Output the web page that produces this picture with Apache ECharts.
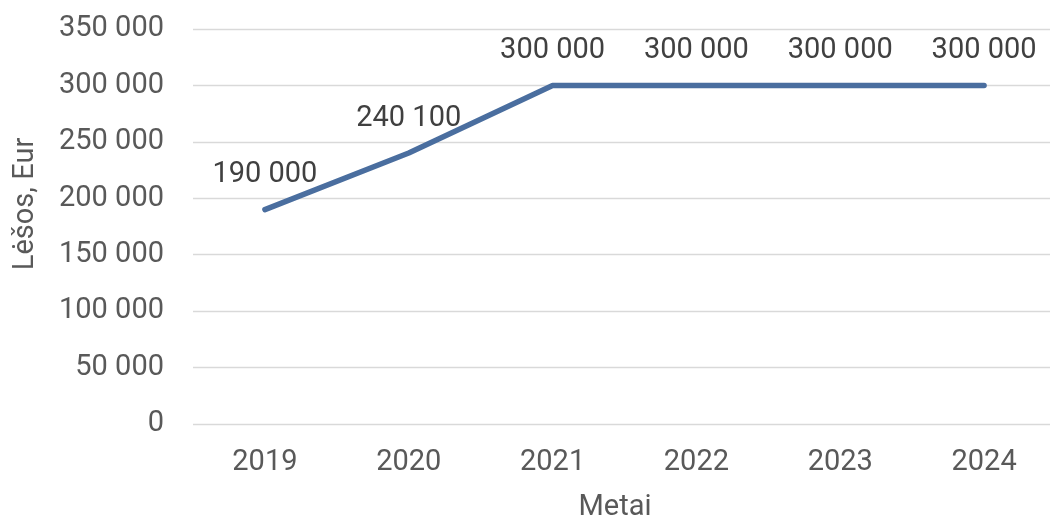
<!DOCTYPE html>
<html>
<head>
<meta charset="utf-8">
<script src="https://cdn.jsdelivr.net/npm/echarts@6/dist/echarts.min.js"></script>
<style>
html,body{margin:0;padding:0;background:#fff;}
#c{width:1050px;height:518px;}
</style>
</head>
<body>
<div id="c"></div>
<script>
const categories = ['2019', '2020', '2021', '2022', '2023', '2024'];
const values = [190000, 240100, 300000, 300000, 300000, 300000];
const yTicks = { min: 0, max: 350000, interval: 50000 };
const yTitle = 'Lėšos, Eur';
const xTitle = 'Metai';

function fmt(v) {
  return String(v).replace(/\B(?=(\d{3})+(?!\d))/g, ' ');
}

const FONT = 'Roboto';
const chart = echarts.init(document.getElementById('c'), null, { renderer: 'canvas' });
chart.setOption({
  animation: false,
  backgroundColor: '#ffffff',
  grid: { left: 193, right: -6, top: 29, bottom: 94, containLabel: false, outerBoundsMode: 'none' },
  xAxis: {
    type: 'category',
    data: categories,
    boundaryGap: true,
    axisLine: { show: false },
    axisTick: { show: false },
    axisLabel: { color: '#595959', fontFamily: FONT, fontSize: 29, lineHeight: 29, margin: 24 }
  },
  yAxis: {
    type: 'value',
    min: yTicks.min,
    max: yTicks.max,
    interval: yTicks.interval,
    axisLine: { show: false },
    axisTick: { show: false },
    splitLine: { lineStyle: { color: '#d9d9d9', width: 1.3 } },
    axisLabel: { color: '#595959', fontFamily: FONT, fontSize: 29, lineHeight: 29, padding: [5, 0, 0, 0], margin: 29, formatter: fmt }
  },
  graphic: [
    {
      type: 'text', x: 26, y: 204, rotation: Math.PI / 2,
      style: { text: yTitle, fill: '#595959', font: '29px Roboto', align: 'center', verticalAlign: 'middle' }
    },
    {
      type: 'text', x: 615, y: 508,
      style: { text: xTitle, fill: '#595959', font: '29px Roboto', align: 'center', verticalAlign: 'middle' }
    }
  ],
  series: [{
    type: 'line',
    data: values,
    symbol: 'circle',
    symbolSize: 0,
    itemStyle: { color: '#4a6e9f' },
    lineStyle: { color: '#4a6e9f', width: 5.5, cap: 'round', join: 'round' },
    label: {
      show: true, position: 'top', distance: 20,
      color: '#404040', fontFamily: FONT, fontSize: 29, lineHeight: 29,
      formatter: p => fmt(p.value)
    }
  }]
});
</script>
</body>
</html>
